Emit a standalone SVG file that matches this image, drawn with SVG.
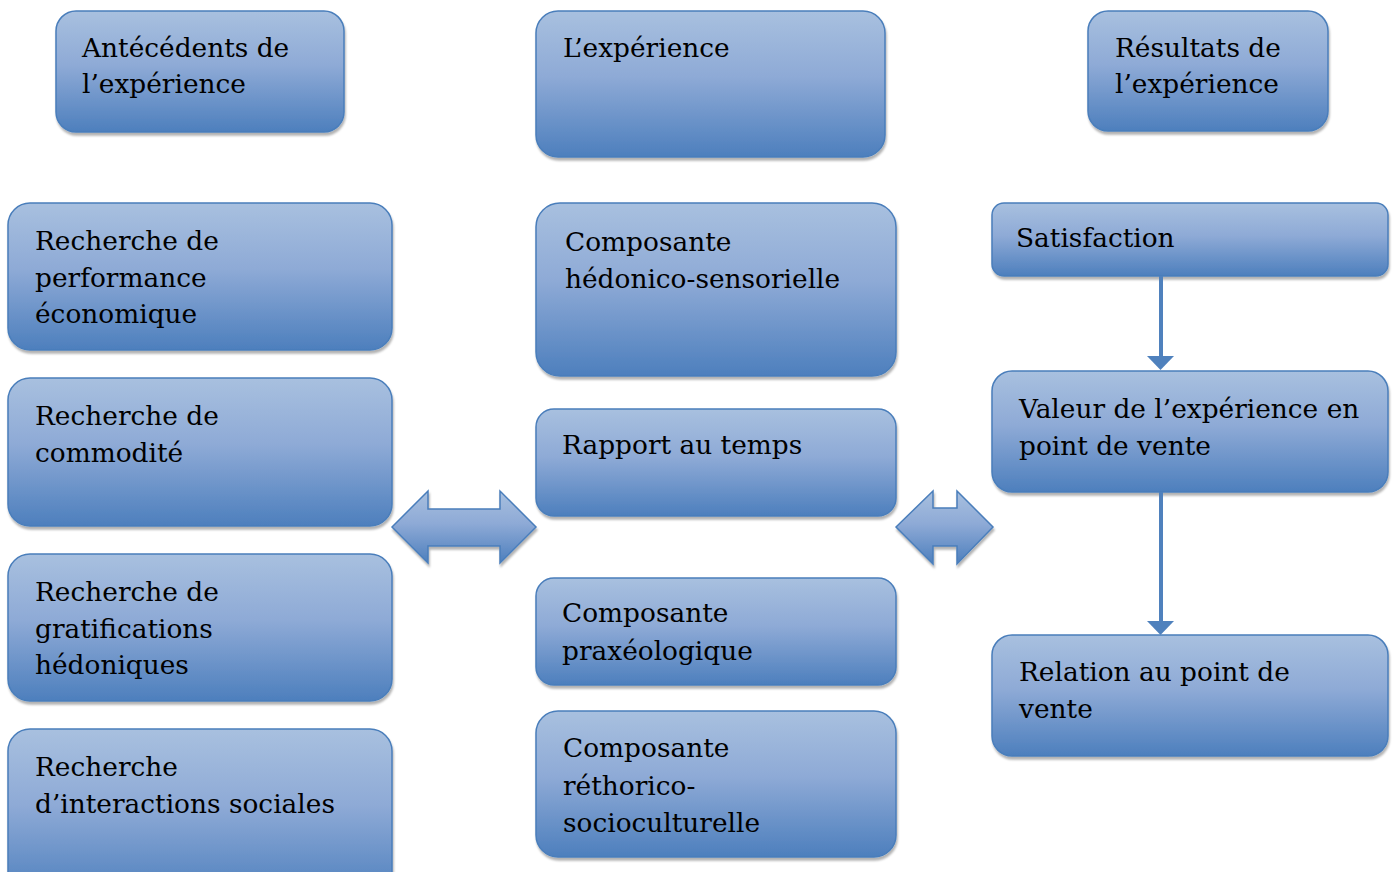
<svg xmlns="http://www.w3.org/2000/svg" width="1394" height="872" viewBox="0 0 1394 872">
<defs>
<linearGradient id="g" x1="0" y1="0" x2="0" y2="1">
<stop offset="0" stop-color="#a8c0df"/>
<stop offset="0.45" stop-color="#8eaad6"/>
<stop offset="1" stop-color="#4d7fbd"/>
</linearGradient>
<filter id="sh" x="-5%" y="-5%" width="110%" height="120%">
<feGaussianBlur in="SourceAlpha" stdDeviation="1.2"/>
<feOffset dx="1" dy="3" result="o"/>
<feFlood flood-color="#000" flood-opacity="0.3"/>
<feComposite in2="o" operator="in"/>
<feMerge><feMergeNode/><feMergeNode in="SourceGraphic"/></feMerge>
</filter>
</defs>
<style>
.b{fill:url(#g);stroke:#4a7ebb;stroke-width:1.5;filter:url(#sh)}
text{font-family:"DejaVu Serif","Liberation Serif",serif;font-size:26.4px;fill:#000}
.c{stroke:#4f81bd;stroke-width:4;fill:none}
.h{fill:#4f81bd}
</style>
<g id="n-antecedents"><rect class="b" x="56" y="11" width="288" height="121" rx="20"/><text x="82" y="57">Antécédents de</text><text x="82" y="93">l’expérience</text></g>
<g id="n-experience"><rect class="b" x="536" y="11" width="349" height="146" rx="22"/><text x="563" y="57">L’expérience</text></g>
<g id="n-resultats"><rect class="b" x="1088" y="11" width="240" height="120" rx="20"/><text x="1115" y="57">Résultats de</text><text x="1115" y="93">l’expérience</text></g>
<g id="n-perf"><rect class="b" x="8" y="203" width="384" height="147" rx="22"/><text x="35" y="250">Recherche de</text><text x="35" y="287">performance</text><text x="35" y="323">économique</text></g>
<g id="n-comm"><rect class="b" x="8" y="378" width="384" height="148" rx="22"/><text x="35" y="425">Recherche de</text><text x="35" y="462">commodité</text></g>
<g id="n-grat"><rect class="b" x="8" y="554" width="384" height="147" rx="22"/><text x="35" y="601">Recherche de</text><text x="35" y="638">gratifications</text><text x="35" y="674">hédoniques</text></g>
<g id="n-inter"><rect class="b" x="8" y="729" width="384" height="170" rx="22"/><text x="35" y="776">Recherche</text><text x="35" y="813">d’interactions sociales</text></g>
<g id="n-hedo"><rect class="b" x="536" y="203" width="360" height="173" rx="24"/><text x="565" y="251">Composante</text><text x="565" y="288">hédonico-sensorielle</text></g>
<g id="n-temps"><rect class="b" x="536" y="409" width="360" height="107" rx="18"/><text x="562" y="454">Rapport au temps</text></g>
<g id="n-praxeo"><rect class="b" x="536" y="578" width="360" height="107" rx="18"/><text x="562" y="622">Composante</text><text x="562" y="660">praxéologique</text></g>
<g id="n-rheto"><rect class="b" x="536" y="711" width="360" height="146" rx="22"/><text x="563" y="757">Composante</text><text x="563" y="795">réthorico-</text><text x="563" y="832">socioculturelle</text></g>
<g id="n-satis"><rect class="b" x="992" y="203" width="396" height="73" rx="12"/><text x="1016" y="247">Satisfaction</text></g>
<g id="n-valeur"><rect class="b" x="992" y="371" width="396" height="121" rx="20"/><text x="1019" y="418">Valeur de l’expérience en</text><text x="1019" y="455">point de vente</text></g>
<g id="n-relation"><rect class="b" x="992" y="635" width="396" height="121" rx="20"/><text x="1019" y="681">Relation au point de</text><text x="1019" y="718">vente</text></g>
<g id="connectors">
<path class="b" d="M392,527 L428,491 L428,509 L500,509 L500,491 L536,527 L500,563 L500,546 L428,546 L428,563 Z"/>
<path class="b" d="M896,527 L933,491 L933,508 L957,508 L957,491 L993,527 L957,564 L957,546 L933,546 L933,564 Z"/>
<line class="c" x1="1161" y1="276" x2="1161" y2="356"/>
<path class="h" d="M1147,356 L1174,356 L1160.5,370 Z"/>
<line class="c" x1="1161" y1="492" x2="1161" y2="621"/>
<path class="h" d="M1147,621 L1174,621 L1160.5,635 Z"/>
</g>
</svg>
